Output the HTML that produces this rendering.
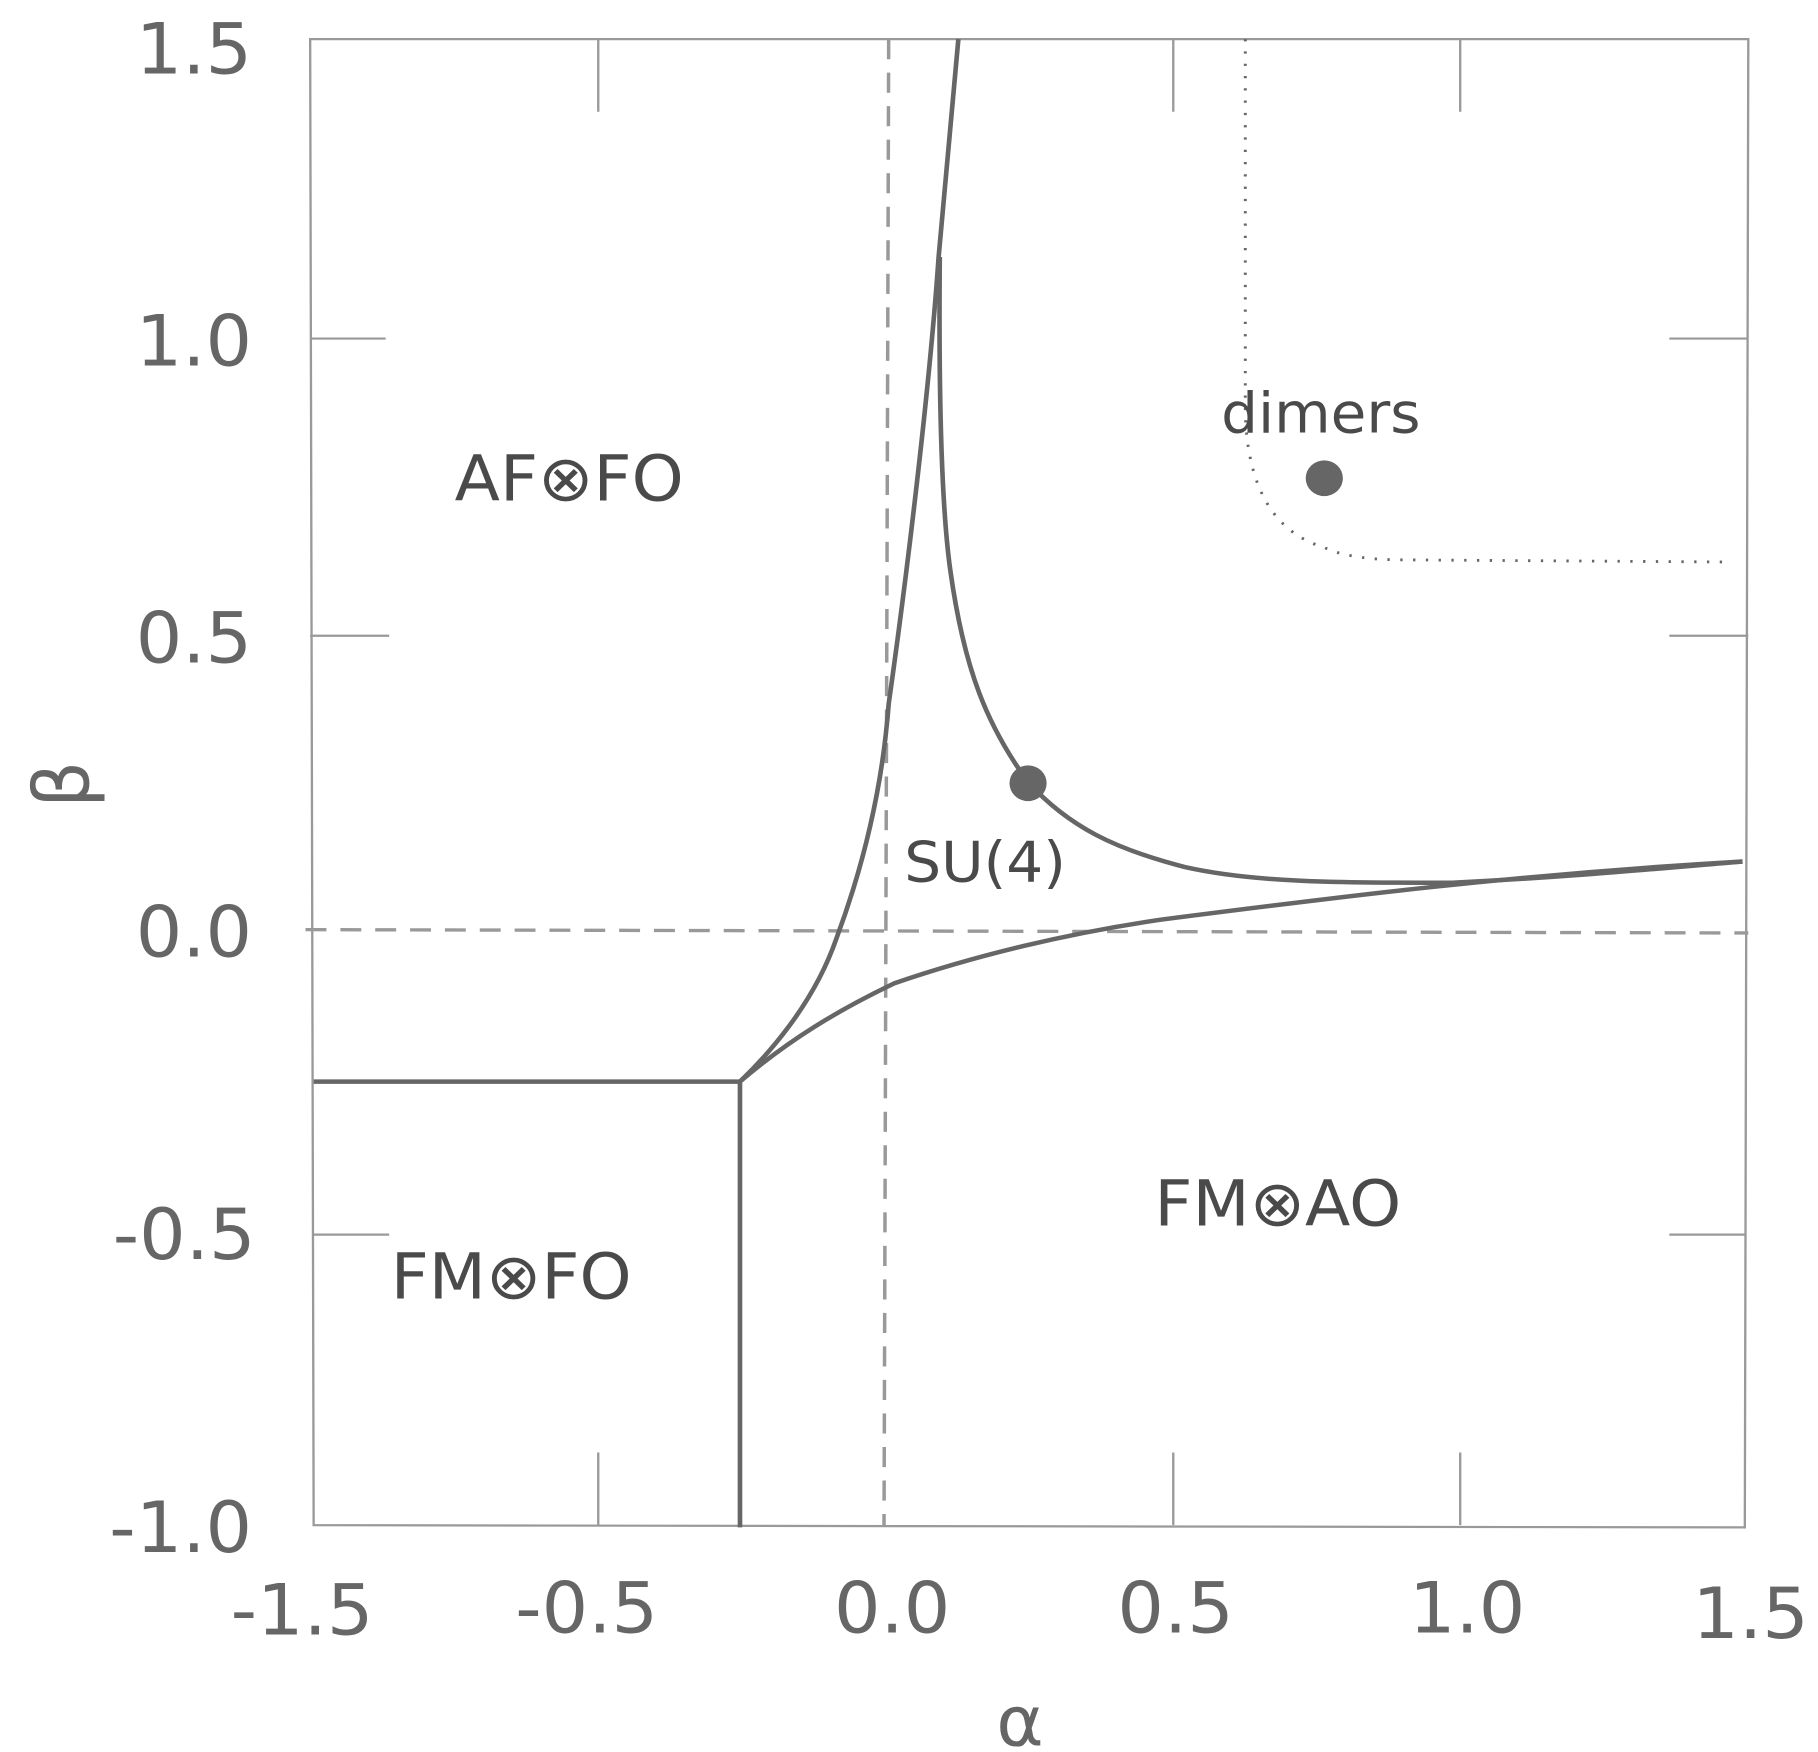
<!DOCTYPE html>
<html><head><style>html,body{margin:0;padding:0;background:#fff}svg{display:block}</style></head>
<body>
<svg width="1818" height="1752" viewBox="0 0 1565 1568" preserveAspectRatio="none" xmlns="http://www.w3.org/2000/svg" font-family="'DejaVu Sans','Liberation Sans',sans-serif">
<g stroke="#999" stroke-width="2" fill="none">
<path d="M267 35 L1505 35 L1502 1367 L270 1365 Z"/>
<path d="M515 35v65M1010 35v65M1257 35v65M515 1365v-65M1010 1365v-65M1257 1365v-65"/>
<path d="M267 303h65M267 569h68M270 1105h65M1437 303h68M1437 569h68M1437 1105h66"/>
<path d="M765 35 L761 1365" stroke-dasharray="18,12" stroke-width="3"/>
<path d="M263 832 L1505 835" stroke-dasharray="18,12" stroke-width="3"/>
</g>
<g stroke="#666" stroke-width="4" fill="none" stroke-linejoin="round">
<path d="M270 968H637V1367"/>
<path d="M637 968 C660 945 700 900 720 840 C745 770 760 700 765 630 C780 520 800 350 808 230 L825 35"/>
<path d="M637 968 C680 930 720 905 770 880 C840 855 920 835 1000 823 C1150 803 1300 783 1500 771"/>
<path d="M809 230 C808 350 810 450 818 510 C830 600 850 650 885 700 C920 740 960 760 1020 776 C1080 790 1150 790 1250 790 C1350 785 1420 778 1500 771"/>
</g>
<path d="M1072 35 L1072 370 Q1075 470 1140 490 Q1160 500 1200 501 L1490 503" stroke="#666" stroke-width="2.5" fill="none" stroke-dasharray="2,9"/>
<circle cx="885" cy="701" r="16" fill="#666"/>
<circle cx="1140" cy="428" r="16" fill="#666"/>
<g fill="#666" font-size="63" text-anchor="end">
<text x="217" y="66">1.5</text><text x="217" y="327">1.0</text><text x="217" y="593">0.5</text><text x="217" y="856">0.0</text><text x="220" y="1127">-0.5</text><text x="217" y="1389">-1.0</text>
</g>
<g fill="#666" font-size="63" text-anchor="middle">
<text x="260" y="1463">-1.5</text><text x="505" y="1461">-0.5</text><text x="768" y="1461">0.0</text><text x="1012" y="1461">0.5</text><text x="1263" y="1461">1.0</text><text x="1507" y="1466">1.5</text>
<text x="878" y="1562" font-size="62">α</text>
<text x="0" y="0" font-size="66" transform="translate(76 702) rotate(-90)">β</text>
</g>
<g fill="#4a4a4a" text-anchor="middle">
<text x="490" y="448" font-size="57">AF⊗FO</text>
<text x="1100" y="1097" font-size="57">FM⊗AO</text>
<text x="440" y="1162" font-size="57">FM⊗FO</text>
<text x="848" y="789" font-size="50">SU(4)</text>
<text x="1137" y="387" font-size="50">dimers</text>
</g>
</svg>
</body></html>
